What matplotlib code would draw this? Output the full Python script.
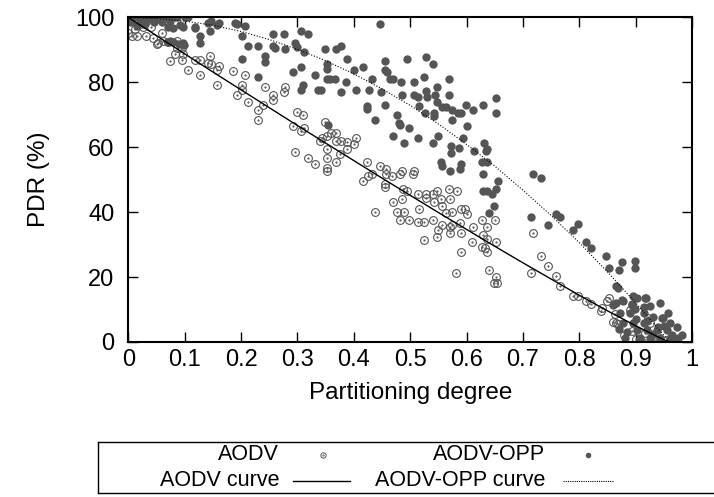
import matplotlib.pyplot as plt

plt.rcParams['font.family'] = ['Liberation Sans', 'DejaVu Sans']

# AODV scatter (open circles)
aodv_x = [0.0, 0.006, 0.015, 0.012, 0.02, 0.026, 0.031, 0.04, 0.044, 0.05, 0.053, 0.059,
          0.062, 0.07, 0.074, 0.083, 0.086, 0.087, 0.095, 0.097, 0.095, 0.106, 0.118, 0.127,
          0.127, 0.145, 0.142, 0.146, 0.157, 0.16, 0.186, 0.207, 0.157, 0.201, 0.201, 0.192,
          0.213, 0.242, 0.257, 0.257, 0.278, 0.276, 0.23, 0.23, 0.239, 0.296, 0.299, 0.309,
          0.292, 0.307, 0.312, 0.319, 0.331, 0.34, 0.349, 0.343, 0.352, 0.359, 0.368, 0.368,
          0.377, 0.387, 0.387, 0.404, 0.40, 0.352, 0.375, 0.353, 0.368, 0.353, 0.353, 0.423,
          0.446, 0.457, 0.417, 0.426, 0.432, 0.457, 0.467, 0.482, 0.486, 0.505, 0.507, 0.455,
          0.455, 0.47, 0.485, 0.487, 0.495, 0.513, 0.528, 0.528, 0.54, 0.542, 0.547, 0.554,
          0.556, 0.568, 0.571, 0.564, 0.575, 0.583, 0.437, 0.477, 0.489, 0.482, 0.497, 0.516,
          0.513, 0.525, 0.541, 0.55, 0.556, 0.571, 0.575, 0.571, 0.588, 0.591, 0.598, 0.60,
          0.59, 0.612, 0.609, 0.525, 0.547, 0.591, 0.582, 0.627, 0.65, 0.637, 0.629, 0.636,
          0.652, 0.627, 0.633, 0.637, 0.639, 0.649, 0.654, 0.653, 0.717, 0.732, 0.745, 0.714,
          0.759, 0.765, 0.788, 0.798, 0.812, 0.821, 0.838, 0.852, 0.849, 0.863, 0.866, 0.89,
          0.911, 0.84, 0.86, 0.869, 0.922, 0.925, 0.908, 0.93, 0.916, 0.893, 0.90, 0.94,
          0.955, 0.965, 0.88]
aodv_y = [95.2, 94.4, 94.4, 96.5, 98.0, 97.2, 94.4, 97.0, 93.7, 91.9, 92.2, 95.3,
          92.8, 92.4, 86.5, 88.9, 92.7, 90.5, 90.6, 88.7, 87.0, 83.9, 87.0, 87.0,
          82.4, 88.0, 86.0, 85.6, 83.9, 85.0, 83.4, 82.4, 79.3, 79.3, 77.8, 76.2,
          73.9, 78.6, 76.2, 74.6, 78.6, 77.0, 71.6, 68.5, 73.1, 58.7, 70.8, 69.8,
          66.7, 64.9, 66.0, 56.7, 54.9, 62.0, 67.7, 62.9, 63.4, 64.4, 64.4, 62.0,
          62.0, 61.5, 59.4, 62.9, 61.0, 59.5, 58.0, 56.7, 55.6, 53.5, 52.6, 55.6,
          54.3, 53.3, 49.5, 51.2, 51.9, 51.9, 51.2, 51.9, 52.6, 51.9, 52.6, 48.8,
          47.9, 43.2, 44.0, 47.1, 46.4, 45.6, 45.6, 44.4, 45.6, 43.1, 46.4, 44.0,
          41.8, 47.2, 44.0, 39.7, 40.0, 46.4, 40.0, 40.0, 40.0, 37.7, 37.7, 41.0,
          36.9, 36.9, 37.7, 34.6, 36.1, 35.4, 36.1, 33.6, 36.6, 41.0, 41.0, 39.4,
          33.7, 35.4, 30.8, 31.5, 32.3, 27.6, 21.2, 37.7, 37.7, 35.4, 33.0, 31.7,
          30.7, 29.2, 28.9, 27.6, 22.2, 18.1, 18.1, 20.0, 33.7, 26.6, 23.5, 21.4,
          20.4, 17.3, 14.2, 14.2, 12.7, 11.7, 9.7, 13.5, 12.5, 8.6, 5.8, 9.9,
          0.1, 10.4, 6.3, 5.4, 7.3, 6.0, 0.3, 0.6, 2.8, 3.4, 1.0, 1.5,
          0.5, 0.3, 2.0]

# AODV-OPP scatter (filled circles)
opp_x = [0.0, 0.005, 0.01, 0.015, 0.02, 0.025, 0.03, 0.035, 0.04, 0.045, 0.05, 0.055,
         0.06, 0.068, 0.071, 0.074, 0.08, 0.082, 0.086, 0.092, 0.097, 0.1, 0.106, 0.071,
         0.074, 0.08, 0.09, 0.097, 0.098, 0.118, 0.118, 0.127, 0.127, 0.145, 0.142, 0.146,
         0.157, 0.16, 0.189, 0.193, 0.207, 0.201, 0.201, 0.213, 0.23, 0.242, 0.242, 0.257,
         0.257, 0.26, 0.276, 0.278, 0.296, 0.299, 0.307, 0.319, 0.312, 0.292, 0.307, 0.331,
         0.23, 0.307, 0.31, 0.337, 0.446, 0.349, 0.368, 0.377, 0.387, 0.352, 0.352, 0.40,
         0.417, 0.455, 0.455, 0.458, 0.494, 0.528, 0.54, 0.524, 0.568, 0.352, 0.357, 0.367,
         0.386, 0.433, 0.464, 0.47, 0.483, 0.507, 0.342, 0.377, 0.404, 0.427, 0.449, 0.485,
         0.506, 0.514, 0.528, 0.53, 0.547, 0.544, 0.547, 0.568, 0.516, 0.526, 0.542, 0.542,
         0.556, 0.563, 0.575, 0.584, 0.591, 0.599, 0.612, 0.629, 0.652, 0.653, 0.423, 0.424,
         0.456, 0.438, 0.477, 0.48, 0.482, 0.497, 0.575, 0.60, 0.469, 0.513, 0.55, 0.489,
         0.541, 0.572, 0.572, 0.587, 0.593, 0.613, 0.631, 0.634, 0.636, 0.627, 0.636, 0.554,
         0.556, 0.571, 0.59, 0.588, 0.63, 0.355, 0.717, 0.732, 0.655, 0.63, 0.637, 0.645,
         0.653, 0.649, 0.639, 0.714, 0.745, 0.759, 0.766, 0.788, 0.798, 0.812, 0.821, 0.847,
         0.852, 0.871, 0.875, 0.899, 0.899, 0.865, 0.869, 0.896, 0.865, 0.877, 0.894, 0.899,
         0.914, 0.918, 0.925, 0.943, 0.946, 0.902, 0.917, 0.875, 0.86, 0.893, 0.872, 0.89,
         0.914, 0.931, 0.949, 0.961, 0.973, 0.982, 0.878, 0.896, 0.914, 0.902, 0.92, 0.937,
         0.955, 0.881, 0.908, 0.925, 0.943, 0.961, 0.976, 0.885, 0.93, 0.95, 0.965, 0.87,
         0.90, 0.94, 0.97, 0.957, 0.92]
opp_y = [99.5, 98.5, 100.0, 97.5, 99.0, 100.0, 98.0, 99.5, 100.0, 98.5, 99.5, 100.0,
         98.5, 100.0, 97.2, 98.9, 96.9, 100.0, 100.0, 97.8, 97.0, 100.0, 100.0, 92.6,
         92.7, 92.6, 91.9, 92.2, 91.4, 96.8, 97.2, 94.4, 92.0, 95.8, 98.4, 98.8,
         97.8, 98.2, 98.4, 98.0, 97.5, 94.2, 87.2, 91.2, 91.2, 88.0, 86.3, 95.0,
         91.2, 90.5, 95.0, 90.3, 92.2, 91.0, 95.8, 95.0, 89.3, 83.3, 84.8, 82.4,
         81.6, 77.8, 79.3, 77.8, 98.1, 90.3, 90.3, 91.2, 87.2, 85.8, 84.2, 83.9,
         84.8, 86.5, 83.9, 83.3, 87.2, 87.9, 85.6, 81.7, 80.9, 80.9, 80.9, 80.9,
         80.2, 80.9, 80.9, 80.9, 80.0, 80.2, 77.8, 77.0, 77.8, 77.8, 77.0, 76.2,
         76.2, 75.5, 77.3, 75.5, 78.6, 76.2, 73.9, 76.2, 72.8, 70.6, 70.6, 69.6,
         72.3, 72.3, 71.6, 70.6, 70.6, 72.9, 71.6, 72.9, 75.2, 70.6, 72.8, 71.8,
         72.9, 68.5, 69.8, 67.5, 66.8, 66.0, 68.3, 66.7, 63.6, 62.9, 63.6, 61.3,
         61.3, 60.5, 58.2, 59.8, 62.9, 59.0, 61.3, 59.0, 59.5, 55.6, 55.6, 55.6,
         54.3, 52.6, 54.9, 53.3, 51.9, 67.0, 51.9, 50.5, 49.5, 46.4, 46.4, 45.7,
         47.1, 41.8, 39.9, 38.5, 36.1, 39.5, 38.5, 34.6, 36.3, 30.8, 29.1, 26.6,
         22.7, 22.2, 24.5, 25.1, 22.9, 17.3, 16.6, 14.2, 11.9, 12.7, 11.6, 10.1,
         10.9, 13.5, 11.1, 11.9, 7.3, 13.5, 13.5, 13.0, 11.4, 11.4, 8.9, 8.9,
         8.9, 7.8, 7.3, 5.8, 4.7, 2.2, 5.8, 5.8, 5.8, 3.7, 3.7, 3.7,
         3.7, 1.1, 1.1, 1.1, 1.1, 1.1, 1.1, 3.0, 2.5, 5.0, 2.0, 4.0,
         7.0, 4.5, 0.5, 9.0, 6.5]

# fitted curves
curve_x = [0.0, 0.05, 0.1, 0.15, 0.2, 0.25, 0.3, 0.35, 0.4, 0.45, 0.5,
           0.55, 0.6, 0.65, 0.7, 0.75, 0.8, 0.85, 0.9, 0.95, 0.96]
aodv_curve = [100.0, 94.4, 88.8, 83.2, 77.7, 72.2, 66.7, 61.3, 55.9, 50.5, 45.2,
              39.9, 34.7, 29.5, 24.4, 19.4, 14.4, 9.6, 5.0, 0.7, 0.0]
opp_curve = [100.0, 99.7, 98.9, 97.6, 95.7, 93.2, 90.2, 86.7, 82.6, 78.0, 72.9,
             67.2, 60.9, 54.2, 46.8, 39.0, 30.6, 21.6, 12.1, 2.1, 0.0]

gray = '#555555'

fig = plt.figure(figsize=(7.14, 4.97), dpi=100)
ax = fig.add_axes([0.1798, 0.3119, 0.7894, 0.6529])

ax.plot(aodv_x, aodv_y, 'o', mfc='none', mec=gray, ms=5.6, mew=0.8)
ax.plot(aodv_x, aodv_y, '.', color=gray, ms=1.2)
ax.plot(opp_x, opp_y, 'o', color=gray, ms=6, mew=0)
ax.plot(curve_x, aodv_curve, '-', color='black', lw=1)
ax.plot(curve_x, opp_curve, color='black', lw=0.8, linestyle=(0, (1, 1.6)))

ax.set_xlim(0, 1)
ax.set_ylim(0, 100)
ax.set_xticks([0, 0.1, 0.2, 0.3, 0.4, 0.5, 0.6, 0.7, 0.8, 0.9, 1])
ax.set_xticklabels(['0', '0.1', '0.2', '0.3', '0.4', '0.5', '0.6', '0.7', '0.8', '0.9', '1'])
ax.set_yticks([0, 20, 40, 60, 80, 100])
ax.tick_params(direction='in', length=7, width=1, top=True, right=True, labelsize=17)
ax.tick_params(axis='x', pad=5)
ax.tick_params(axis='y', pad=10)
for s in ax.spines.values():
    s.set_linewidth(1.5)

ax.set_xlabel('Partitioning degree', fontsize=17.5, va='center')
ax.xaxis.set_label_coords(0.5, -0.157)
ax.set_ylabel('PDR (%)', fontsize=17.5, va='center')
ax.yaxis.set_label_coords(-0.158, 0.5)

# legend box drawn in pixel coordinates
lax = fig.add_axes([0, 0, 1, 1])
lax.set_xlim(0, 714)
lax.set_ylim(497, 0)
lax.axis('off')
lax.plot([98, 714], [442, 442], color='black', lw=1)
lax.plot([98, 714], [493, 493], color='black', lw=1)
lax.plot([98, 98], [442, 493], color='black', lw=1)

lax.text(279, 455, 'AODV', ha='right', va='center', fontsize=15.5)
lax.plot([323], [455], 'o', mfc='none', mec=gray, ms=3.8, mew=0.7)
lax.plot([323], [455], '.', color=gray, ms=1)
lax.text(545, 455, 'AODV-OPP', ha='right', va='center', fontsize=15.5)
lax.plot([588], [455], 'o', color=gray, ms=4, mew=0)
lax.text(279, 481, 'AODV curve', ha='right', va='center', fontsize=15.5)
lax.plot([293, 350], [481, 481], '-', color='black', lw=1)
lax.text(545, 481, 'AODV-OPP curve', ha='right', va='center', fontsize=15.5)
lax.plot([563, 613], [481, 481], color='black', lw=0.8, linestyle=(0, (1, 1)))

fig.savefig('out.png', dpi=100)
